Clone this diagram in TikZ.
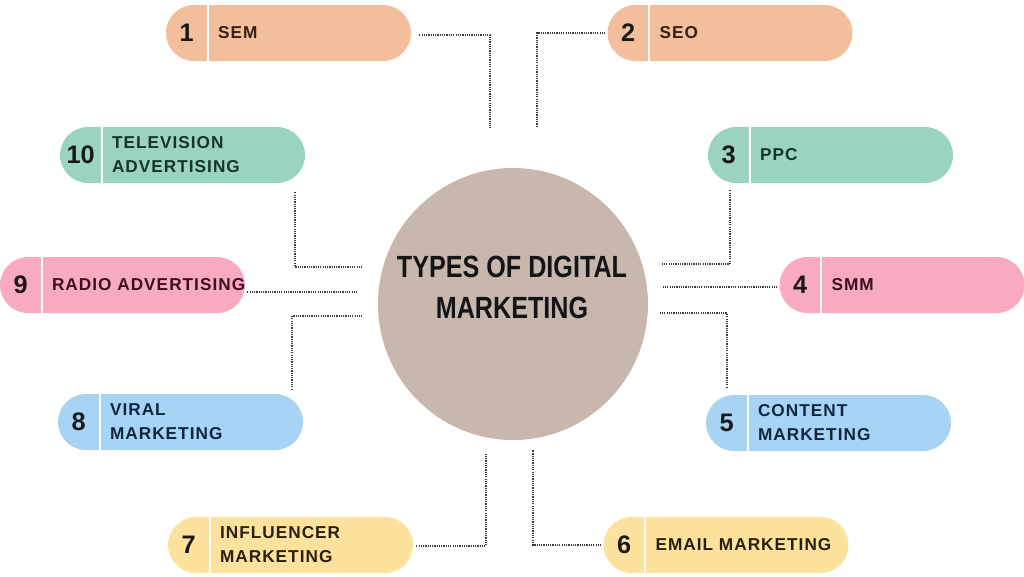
\documentclass[tikz,border=0pt]{standalone}
\usepackage{fontspec}
\usepackage{graphicx}
\setmainfont{Liberation Sans}
\newfontfamily\pillfont[LetterSpace=6]{Liberation Sans}
\usetikzlibrary{calc,shapes.geometric}
\definecolor{peach}{HTML}{F2BE9B}
\definecolor{mint}{HTML}{9AD3BE}
\definecolor{rose}{HTML}{F8AABF}
\definecolor{sky}{HTML}{A7D3F5}
\definecolor{butter}{HTML}{FCE29C}
\definecolor{taupe}{HTML}{C8B7AD}
\definecolor{tpeach}{HTML}{3A1E16}
\definecolor{tmint}{HTML}{14352A}
\definecolor{trose}{HTML}{3B0F1F}
\definecolor{tsky}{HTML}{10263F}
\definecolor{tbutter}{HTML}{2A1F0C}
\definecolor{connc}{HTML}{3C3C3C}
\tikzset{
  pill/.style={rectangle, rounded corners=21pt, minimum width=183.75pt, minimum height=42pt, inner sep=0pt, draw=none},
  divider/.style={draw=white, line width=1.4pt},
  numtext/.style={font=\bfseries\fontsize{19}{20}\selectfont, text=black!90, inner sep=0pt},
  pilltext/.style={font=\pillfont\bfseries\fontsize{12.9}{18}\selectfont, align=left, inner sep=0pt},
  conn/.style={draw=connc, line width=1.5pt, dash pattern=on 0.9pt off 0.8pt},
  hub/.style={ellipse, fill=taupe, minimum width=202.5pt, minimum height=204pt, inner sep=0pt},
  hubtext/.style={font=\bfseries\fontsize{23}{30.75}\selectfont, align=center, text=black!92, inner sep=0pt}
}
\newcommand{\dmpill}[6]{%
  \node[pill, fill=#3] (#1) at #2 {};
  \draw[divider] ($(#1.north west)+(42,0)$) -- ($(#1.south west)+(42,0)$);
  \node[numtext] (#1n) at ($(#1.west)+(21,0)$) {#5};
  \node[pilltext, text=#4, anchor=west] (#1t) at ($(#1.west)+(52,0)$) {#6};
}
\begin{document}
\begin{tikzpicture}[x=0.75pt,y=-0.75pt]
\useasboundingbox (0,0) rectangle (1024,576);
\fill[white] (0,0) rectangle (1024,576);

\node[hub] (hub) at (513,304) {};
\node[hubtext] (hubt) at (512,287.5) {\scalebox{0.82}[1]{TYPES OF DIGITAL}\\\scalebox{0.82}[1]{MARKETING}};

\dmpill{p1}{(288.5,33)}{peach}{tpeach}{1}{SEM}
\dmpill{p2}{(730,33)}{peach}{tpeach}{2}{SEO}
\dmpill{p10}{(182.5,155)}{mint}{tmint}{10}{TELEVISION\\ADVERTISING}
\dmpill{p3}{(830.5,155)}{mint}{tmint}{3}{PPC}
\dmpill{p9}{(122.5,285)}{rose}{trose}{9}{RADIO ADVERTISING}
\dmpill{p4}{(902,285)}{rose}{trose}{4}{SMM}
\dmpill{p8}{(180.5,422)}{sky}{tsky}{8}{VIRAL\\MARKETING}
\dmpill{p5}{(828.5,423)}{sky}{tsky}{5}{CONTENT\\MARKETING}
\dmpill{p7}{(290.5,545)}{butter}{tbutter}{7}{INFLUENCER\\MARKETING}
\dmpill{p6}{(726,545)}{butter}{tbutter}{6}{EMAIL MARKETING}

\coordinate (e1) at (490,128);
\coordinate (e2) at (537,127);
\coordinate (e10) at (363,267);
\coordinate (e3) at (662,264);
\coordinate (e9) at (358,292);
\coordinate (e4) at (663,287);
\coordinate (e8) at (362,316);
\coordinate (e5) at (659,313);
\coordinate (e7) at (486,453);
\coordinate (e6) at (533,450);

\draw[conn] ($(p1.east)+(8,2)$) -| (e1);
\draw[conn] ($(p2.west)+(-2,0)$) -| (e2);
\draw[conn] ($(p10.south east)+(-10,9)$) |- (e10);
\draw[conn] ($(p3.south west)+(22,7)$) |- (e3);
\draw[conn] ($(p9.east)+(2,7)$) -- (e9);
\draw[conn] ($(p4.west)+(-2,2)$) -- (e4);
\draw[conn] ($(p8.north east)+(-11,-4)$) |- (e8);
\draw[conn] ($(p5.north west)+(21,-7)$) |- (e5);
\draw[conn] ($(p7.east)+(3,1)$) -| (e7);
\draw[conn] ($(p6.west)+(-2,0)$) -| (e6);
\end{tikzpicture}
\end{document}
